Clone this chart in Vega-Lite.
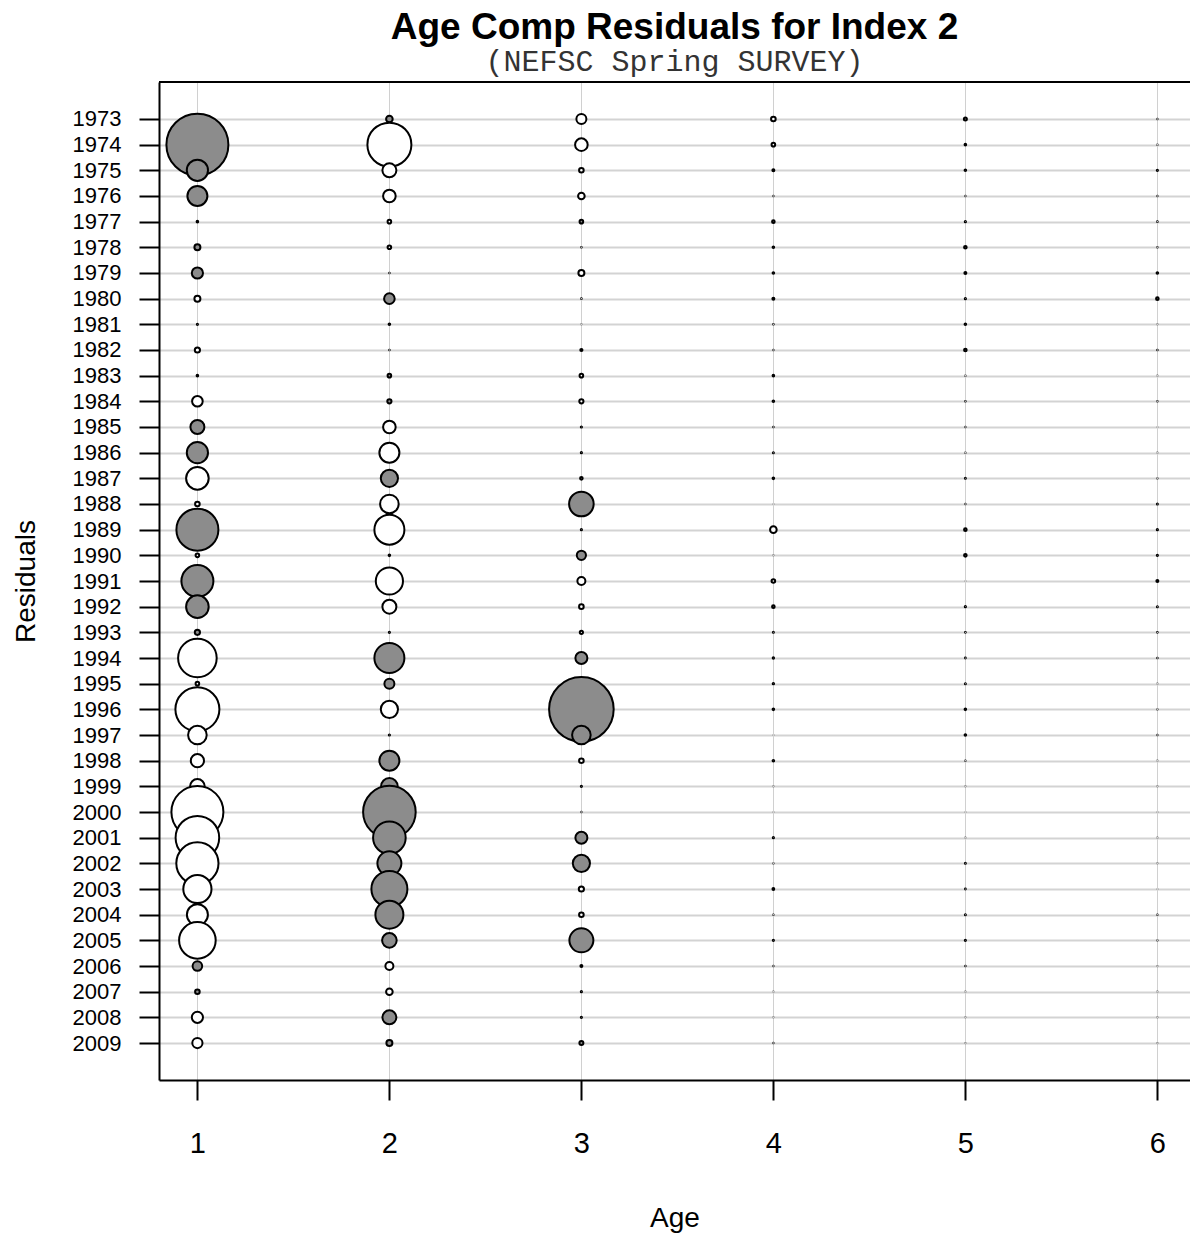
{
  "$schema": "https://vega.github.io/schema/vega-lite/v6.json",
  "autosize": {"type": "none"},
  "padding": {"left": 159, "top": 82, "right": 0, "bottom": 157},
  "width": 1031,
  "height": 998,
  "background": "white",
  "config": {
    "view": {"stroke": null},
    "axis": {"labelColor": "black", "titleColor": "black", "tickColor": "black", "domainColor": "black", "labelFont": "Liberation Sans", "titleFont": "Liberation Sans", "titleFontWeight": "normal"}
  },
  "title": {
    "text": "Age Comp Residuals for Index 2",
    "subtitle": "(NEFSC Spring SURVEY)",
    "font": "Liberation Sans",
    "fontSize": 37,
    "fontWeight": "bold",
    "color": "black",
    "subtitleFont": "Liberation Mono",
    "subtitleFontSize": 30,
    "subtitleColor": "#333333",
    "subtitlePadding": 0,
    "offset": 3,
    "anchor": "middle"
  },
  "data": {"values": [
    {"year":1973,"age":1,"resid_abs":0.13,"sign":"pos"},{"year":1973,"age":2,"resid_abs":0.33,"sign":"pos"},{"year":1973,"age":3,"resid_abs":0.5,"sign":"neg"},{"year":1973,"age":4,"resid_abs":0.23,"sign":"neg"},{"year":1973,"age":5,"resid_abs":0.15,"sign":"pos"},{"year":1973,"age":6,"resid_abs":0.02,"sign":"neg"},
    {"year":1974,"age":1,"resid_abs":3.1,"sign":"pos"},{"year":1974,"age":2,"resid_abs":2.2,"sign":"neg"},{"year":1974,"age":3,"resid_abs":0.63,"sign":"neg"},{"year":1974,"age":4,"resid_abs":0.18,"sign":"neg"},{"year":1974,"age":5,"resid_abs":0.08,"sign":"pos"},{"year":1974,"age":6,"resid_abs":0.02,"sign":"neg"},
    {"year":1975,"age":1,"resid_abs":1.06,"sign":"pos"},{"year":1975,"age":2,"resid_abs":0.7,"sign":"neg"},{"year":1975,"age":3,"resid_abs":0.23,"sign":"neg"},{"year":1975,"age":4,"resid_abs":0.1,"sign":"pos"},{"year":1975,"age":5,"resid_abs":0.08,"sign":"pos"},{"year":1975,"age":6,"resid_abs":0.06,"sign":"pos"},
    {"year":1976,"age":1,"resid_abs":1.0,"sign":"pos"},{"year":1976,"age":2,"resid_abs":0.63,"sign":"neg"},{"year":1976,"age":3,"resid_abs":0.33,"sign":"neg"},{"year":1976,"age":4,"resid_abs":0.02,"sign":"neg"},{"year":1976,"age":5,"resid_abs":0.02,"sign":"neg"},{"year":1976,"age":6,"resid_abs":0.02,"sign":"neg"},
    {"year":1977,"age":1,"resid_abs":0.08,"sign":"pos"},{"year":1977,"age":2,"resid_abs":0.18,"sign":"neg"},{"year":1977,"age":3,"resid_abs":0.18,"sign":"pos"},{"year":1977,"age":4,"resid_abs":0.13,"sign":"pos"},{"year":1977,"age":5,"resid_abs":0.06,"sign":"neg"},{"year":1977,"age":6,"resid_abs":0.03,"sign":"neg"},
    {"year":1978,"age":1,"resid_abs":0.3,"sign":"pos"},{"year":1978,"age":2,"resid_abs":0.18,"sign":"neg"},{"year":1978,"age":3,"resid_abs":0.03,"sign":"pos"},{"year":1978,"age":4,"resid_abs":0.08,"sign":"pos"},{"year":1978,"age":5,"resid_abs":0.13,"sign":"pos"},{"year":1978,"age":6,"resid_abs":0.02,"sign":"pos"},
    {"year":1979,"age":1,"resid_abs":0.56,"sign":"pos"},{"year":1979,"age":2,"resid_abs":0.03,"sign":"neg"},{"year":1979,"age":3,"resid_abs":0.3,"sign":"neg"},{"year":1979,"age":4,"resid_abs":0.08,"sign":"pos"},{"year":1979,"age":5,"resid_abs":0.1,"sign":"pos"},{"year":1979,"age":6,"resid_abs":0.08,"sign":"pos"},
    {"year":1980,"age":1,"resid_abs":0.3,"sign":"neg"},{"year":1980,"age":2,"resid_abs":0.53,"sign":"pos"},{"year":1980,"age":3,"resid_abs":0.03,"sign":"neg"},{"year":1980,"age":4,"resid_abs":0.1,"sign":"pos"},{"year":1980,"age":5,"resid_abs":0.06,"sign":"neg"},{"year":1980,"age":6,"resid_abs":0.13,"sign":"pos"},
    {"year":1981,"age":1,"resid_abs":0.06,"sign":"pos"},{"year":1981,"age":2,"resid_abs":0.08,"sign":"pos"},{"year":1981,"age":3,"resid_abs":0.01,"sign":"neg"},{"year":1981,"age":4,"resid_abs":0.03,"sign":"neg"},{"year":1981,"age":5,"resid_abs":0.08,"sign":"pos"},{"year":1981,"age":6,"resid_abs":0.01,"sign":"neg"},
    {"year":1982,"age":1,"resid_abs":0.26,"sign":"neg"},{"year":1982,"age":2,"resid_abs":0.03,"sign":"neg"},{"year":1982,"age":3,"resid_abs":0.11,"sign":"pos"},{"year":1982,"age":4,"resid_abs":0.02,"sign":"neg"},{"year":1982,"age":5,"resid_abs":0.13,"sign":"pos"},{"year":1982,"age":6,"resid_abs":0.03,"sign":"neg"},
    {"year":1983,"age":1,"resid_abs":0.08,"sign":"pos"},{"year":1983,"age":2,"resid_abs":0.18,"sign":"pos"},{"year":1983,"age":3,"resid_abs":0.18,"sign":"neg"},{"year":1983,"age":4,"resid_abs":0.08,"sign":"pos"},{"year":1983,"age":5,"resid_abs":0.02,"sign":"neg"},{"year":1983,"age":6,"resid_abs":0.01,"sign":"neg"},
    {"year":1984,"age":1,"resid_abs":0.53,"sign":"neg"},{"year":1984,"age":2,"resid_abs":0.21,"sign":"pos"},{"year":1984,"age":3,"resid_abs":0.21,"sign":"neg"},{"year":1984,"age":4,"resid_abs":0.08,"sign":"pos"},{"year":1984,"age":5,"resid_abs":0.03,"sign":"pos"},{"year":1984,"age":6,"resid_abs":0.02,"sign":"pos"},
    {"year":1985,"age":1,"resid_abs":0.7,"sign":"pos"},{"year":1985,"age":2,"resid_abs":0.63,"sign":"neg"},{"year":1985,"age":3,"resid_abs":0.06,"sign":"pos"},{"year":1985,"age":4,"resid_abs":0.03,"sign":"neg"},{"year":1985,"age":5,"resid_abs":0.02,"sign":"neg"},{"year":1985,"age":6,"resid_abs":0.01,"sign":"neg"},
    {"year":1986,"age":1,"resid_abs":1.06,"sign":"pos"},{"year":1986,"age":2,"resid_abs":1.0,"sign":"neg"},{"year":1986,"age":3,"resid_abs":0.06,"sign":"pos"},{"year":1986,"age":4,"resid_abs":0.05,"sign":"pos"},{"year":1986,"age":5,"resid_abs":0.02,"sign":"neg"},{"year":1986,"age":6,"resid_abs":0.01,"sign":"neg"},
    {"year":1987,"age":1,"resid_abs":1.13,"sign":"neg"},{"year":1987,"age":2,"resid_abs":0.86,"sign":"pos"},{"year":1987,"age":3,"resid_abs":0.13,"sign":"pos"},{"year":1987,"age":4,"resid_abs":0.08,"sign":"pos"},{"year":1987,"age":5,"resid_abs":0.05,"sign":"pos"},{"year":1987,"age":6,"resid_abs":0.02,"sign":"pos"},
    {"year":1988,"age":1,"resid_abs":0.23,"sign":"neg"},{"year":1988,"age":2,"resid_abs":0.93,"sign":"neg"},{"year":1988,"age":3,"resid_abs":1.23,"sign":"pos"},{"year":1988,"age":4,"resid_abs":0.01,"sign":"neg"},{"year":1988,"age":5,"resid_abs":0.02,"sign":"neg"},{"year":1988,"age":6,"resid_abs":0.05,"sign":"pos"},
    {"year":1989,"age":1,"resid_abs":2.1,"sign":"pos"},{"year":1989,"age":2,"resid_abs":1.5,"sign":"neg"},{"year":1989,"age":3,"resid_abs":0.06,"sign":"pos"},{"year":1989,"age":4,"resid_abs":0.33,"sign":"neg"},{"year":1989,"age":5,"resid_abs":0.13,"sign":"pos"},{"year":1989,"age":6,"resid_abs":0.06,"sign":"pos"},
    {"year":1990,"age":1,"resid_abs":0.18,"sign":"neg"},{"year":1990,"age":2,"resid_abs":0.08,"sign":"pos"},{"year":1990,"age":3,"resid_abs":0.46,"sign":"pos"},{"year":1990,"age":4,"resid_abs":0.01,"sign":"neg"},{"year":1990,"age":5,"resid_abs":0.13,"sign":"pos"},{"year":1990,"age":6,"resid_abs":0.06,"sign":"pos"},
    {"year":1991,"age":1,"resid_abs":1.6,"sign":"pos"},{"year":1991,"age":2,"resid_abs":1.36,"sign":"neg"},{"year":1991,"age":3,"resid_abs":0.4,"sign":"neg"},{"year":1991,"age":4,"resid_abs":0.18,"sign":"neg"},{"year":1991,"age":5,"resid_abs":0.01,"sign":"neg"},{"year":1991,"age":6,"resid_abs":0.1,"sign":"pos"},
    {"year":1992,"age":1,"resid_abs":1.13,"sign":"pos"},{"year":1992,"age":2,"resid_abs":0.7,"sign":"neg"},{"year":1992,"age":3,"resid_abs":0.23,"sign":"neg"},{"year":1992,"age":4,"resid_abs":0.13,"sign":"pos"},{"year":1992,"age":5,"resid_abs":0.06,"sign":"neg"},{"year":1992,"age":6,"resid_abs":0.05,"sign":"neg"},
    {"year":1993,"age":1,"resid_abs":0.26,"sign":"pos"},{"year":1993,"age":2,"resid_abs":0.06,"sign":"pos"},{"year":1993,"age":3,"resid_abs":0.16,"sign":"neg"},{"year":1993,"age":4,"resid_abs":0.05,"sign":"pos"},{"year":1993,"age":5,"resid_abs":0.04,"sign":"neg"},{"year":1993,"age":6,"resid_abs":0.03,"sign":"neg"},
    {"year":1994,"age":1,"resid_abs":1.93,"sign":"neg"},{"year":1994,"age":2,"resid_abs":1.5,"sign":"pos"},{"year":1994,"age":3,"resid_abs":0.6,"sign":"pos"},{"year":1994,"age":4,"resid_abs":0.07,"sign":"pos"},{"year":1994,"age":5,"resid_abs":0.04,"sign":"neg"},{"year":1994,"age":6,"resid_abs":0.03,"sign":"neg"},
    {"year":1995,"age":1,"resid_abs":0.18,"sign":"neg"},{"year":1995,"age":2,"resid_abs":0.5,"sign":"pos"},{"year":1995,"age":3,"resid_abs":0.03,"sign":"pos"},{"year":1995,"age":4,"resid_abs":0.07,"sign":"pos"},{"year":1995,"age":5,"resid_abs":0.05,"sign":"neg"},{"year":1995,"age":6,"resid_abs":0.01,"sign":"neg"},
    {"year":1996,"age":1,"resid_abs":2.2,"sign":"neg"},{"year":1996,"age":2,"resid_abs":0.86,"sign":"neg"},{"year":1996,"age":3,"resid_abs":3.23,"sign":"pos"},{"year":1996,"age":4,"resid_abs":0.08,"sign":"pos"},{"year":1996,"age":5,"resid_abs":0.08,"sign":"pos"},{"year":1996,"age":6,"resid_abs":0.02,"sign":"neg"},
    {"year":1997,"age":1,"resid_abs":0.93,"sign":"neg"},{"year":1997,"age":2,"resid_abs":0.06,"sign":"pos"},{"year":1997,"age":3,"resid_abs":0.93,"sign":"pos"},{"year":1997,"age":4,"resid_abs":0.01,"sign":"neg"},{"year":1997,"age":5,"resid_abs":0.08,"sign":"pos"},{"year":1997,"age":6,"resid_abs":0.02,"sign":"neg"},
    {"year":1998,"age":1,"resid_abs":0.66,"sign":"neg"},{"year":1998,"age":2,"resid_abs":1.0,"sign":"pos"},{"year":1998,"age":3,"resid_abs":0.23,"sign":"neg"},{"year":1998,"age":4,"resid_abs":0.08,"sign":"pos"},{"year":1998,"age":5,"resid_abs":0.02,"sign":"neg"},{"year":1998,"age":6,"resid_abs":0.01,"sign":"neg"},
    {"year":1999,"age":1,"resid_abs":0.73,"sign":"neg"},{"year":1999,"age":2,"resid_abs":0.83,"sign":"pos"},{"year":1999,"age":3,"resid_abs":0.06,"sign":"pos"},{"year":1999,"age":4,"resid_abs":0.01,"sign":"neg"},{"year":1999,"age":5,"resid_abs":0.01,"sign":"neg"},{"year":1999,"age":6,"resid_abs":0.01,"sign":"neg"},
    {"year":2000,"age":1,"resid_abs":2.6,"sign":"neg"},{"year":2000,"age":2,"resid_abs":2.63,"sign":"pos"},{"year":2000,"age":3,"resid_abs":0.02,"sign":"neg"},{"year":2000,"age":4,"resid_abs":0.01,"sign":"neg"},{"year":2000,"age":5,"resid_abs":0.01,"sign":"neg"},{"year":2000,"age":6,"resid_abs":0.01,"sign":"neg"},
    {"year":2001,"age":1,"resid_abs":2.18,"sign":"neg"},{"year":2001,"age":2,"resid_abs":1.63,"sign":"pos"},{"year":2001,"age":3,"resid_abs":0.6,"sign":"pos"},{"year":2001,"age":4,"resid_abs":0.06,"sign":"pos"},{"year":2001,"age":5,"resid_abs":0.01,"sign":"neg"},{"year":2001,"age":6,"resid_abs":0.01,"sign":"neg"},
    {"year":2002,"age":1,"resid_abs":2.11,"sign":"neg"},{"year":2002,"age":2,"resid_abs":1.2,"sign":"pos"},{"year":2002,"age":3,"resid_abs":0.86,"sign":"pos"},{"year":2002,"age":4,"resid_abs":0.02,"sign":"neg"},{"year":2002,"age":5,"resid_abs":0.05,"sign":"pos"},{"year":2002,"age":6,"resid_abs":0.01,"sign":"neg"},
    {"year":2003,"age":1,"resid_abs":1.41,"sign":"neg"},{"year":2003,"age":2,"resid_abs":1.8,"sign":"pos"},{"year":2003,"age":3,"resid_abs":0.26,"sign":"neg"},{"year":2003,"age":4,"resid_abs":0.09,"sign":"pos"},{"year":2003,"age":5,"resid_abs":0.04,"sign":"pos"},{"year":2003,"age":6,"resid_abs":0.01,"sign":"neg"},
    {"year":2004,"age":1,"resid_abs":1.05,"sign":"neg"},{"year":2004,"age":2,"resid_abs":1.4,"sign":"pos"},{"year":2004,"age":3,"resid_abs":0.23,"sign":"neg"},{"year":2004,"age":4,"resid_abs":0.02,"sign":"neg"},{"year":2004,"age":5,"resid_abs":0.05,"sign":"neg"},{"year":2004,"age":6,"resid_abs":0.02,"sign":"neg"},
    {"year":2005,"age":1,"resid_abs":1.83,"sign":"neg"},{"year":2005,"age":2,"resid_abs":0.73,"sign":"pos"},{"year":2005,"age":3,"resid_abs":1.2,"sign":"pos"},{"year":2005,"age":4,"resid_abs":0.06,"sign":"pos"},{"year":2005,"age":5,"resid_abs":0.06,"sign":"pos"},{"year":2005,"age":6,"resid_abs":0.02,"sign":"neg"},
    {"year":2006,"age":1,"resid_abs":0.48,"sign":"pos"},{"year":2006,"age":2,"resid_abs":0.4,"sign":"neg"},{"year":2006,"age":3,"resid_abs":0.1,"sign":"pos"},{"year":2006,"age":4,"resid_abs":0.02,"sign":"neg"},{"year":2006,"age":5,"resid_abs":0.03,"sign":"pos"},{"year":2006,"age":6,"resid_abs":0.01,"sign":"neg"},
    {"year":2007,"age":1,"resid_abs":0.23,"sign":"pos"},{"year":2007,"age":2,"resid_abs":0.33,"sign":"neg"},{"year":2007,"age":3,"resid_abs":0.06,"sign":"pos"},{"year":2007,"age":4,"resid_abs":0.01,"sign":"neg"},{"year":2007,"age":5,"resid_abs":0.01,"sign":"neg"},{"year":2007,"age":6,"resid_abs":0.01,"sign":"neg"},
    {"year":2008,"age":1,"resid_abs":0.56,"sign":"neg"},{"year":2008,"age":2,"resid_abs":0.7,"sign":"pos"},{"year":2008,"age":3,"resid_abs":0.06,"sign":"pos"},{"year":2008,"age":4,"resid_abs":0.01,"sign":"neg"},{"year":2008,"age":5,"resid_abs":0.01,"sign":"neg"},{"year":2008,"age":6,"resid_abs":0.01,"sign":"neg"},
    {"year":2009,"age":1,"resid_abs":0.51,"sign":"neg"},{"year":2009,"age":2,"resid_abs":0.3,"sign":"pos"},{"year":2009,"age":3,"resid_abs":0.2,"sign":"pos"},{"year":2009,"age":4,"resid_abs":0.02,"sign":"neg"},{"year":2009,"age":5,"resid_abs":0.01,"sign":"neg"},{"year":2009,"age":6,"resid_abs":0.01,"sign":"neg"}
  ]},
  "layer": [
    {
      "mark": {"type": "point", "shape": "circle", "filled": true, "stroke": "black", "strokeWidth": 2, "opacity": 1, "fillOpacity": 1, "strokeOpacity": 1},
      "encoding": {
        "x": {
          "field": "age", "type": "quantitative",
          "scale": {"domain": [0.8, 6.17], "nice": false, "zero": false},
          "axis": {
            "values": [1, 2, 3, 4, 5, 6], "format": "d", "tickCount": 10,
            "title": "Age", "titleFontSize": 28, "titlePadding": 46,
            "labelFontSize": 29, "labelPadding": 29,
            "tickSize": 20, "tickWidth": 2,
            "domain": true, "domainWidth": 2,
            "grid": true, "gridColor": "#d0d0d0", "gridWidth": 1
          }
        },
        "y": {
          "field": "year", "type": "quantitative",
          "scale": {"domain": [1971.56, 2010.44], "nice": false, "zero": false, "reverse": true},
          "axis": {
            "values": [1973,1974,1975,1976,1977,1978,1979,1980,1981,1982,1983,1984,1985,1986,1987,1988,1989,1990,1991,1992,1993,1994,1995,1996,1997,1998,1999,2000,2001,2002,2003,2004,2005,2006,2007,2008,2009],
            "format": "d", "tickCount": 60,
            "labelOverlap": false,
            "title": "Residuals", "titleFontSize": 28, "titlePadding": 32,
            "labelFontSize": 22, "labelPadding": 18,
            "tickSize": 20, "tickWidth": 2,
            "domain": true, "domainWidth": 2,
            "grid": true, "gridColor": "#d3d3d3", "gridWidth": 2
          }
        },
        "size": {
          "field": "resid_abs", "type": "quantitative",
          "scale": {"type": "pow", "exponent": 2, "domain": [0, 1], "range": [0, 400], "zero": true},
          "legend": null
        },
        "fill": {
          "field": "sign", "type": "nominal",
          "scale": {"domain": ["pos", "neg"], "range": ["#8c8c8c", "#ffffff"]},
          "legend": null
        }
      }
    },
    {
      "mark": {"type": "rule", "color": "black", "strokeWidth": 2},
      "encoding": {"y": {"datum": 1971.56, "type": "quantitative"}}
    }
  ]
}
